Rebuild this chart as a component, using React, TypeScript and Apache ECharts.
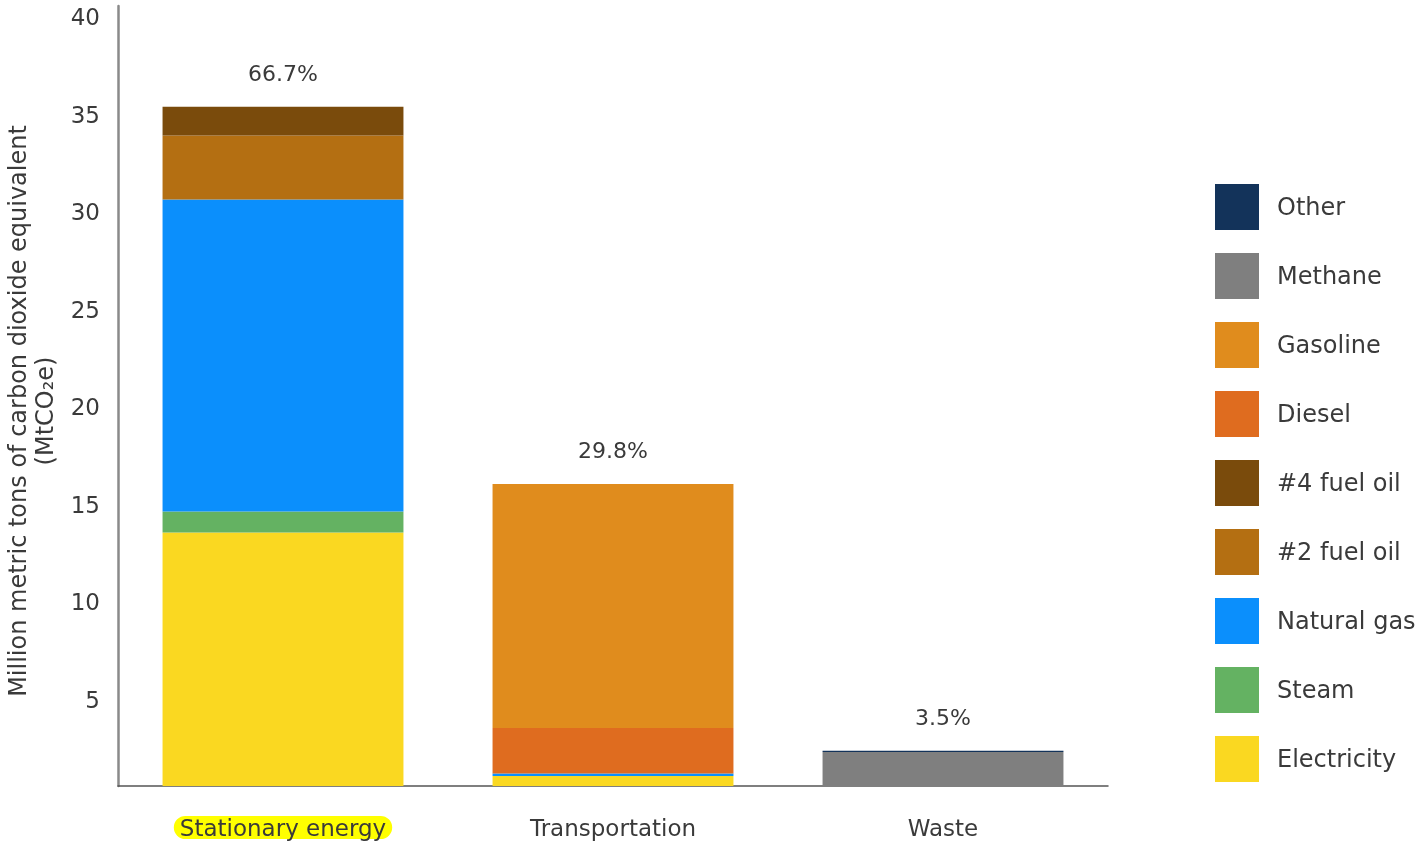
import React, { useEffect, useRef } from "react";
import * as echarts from "echarts";

const categories = ["Stationary energy", "Transportation", "Waste"];
const percentLabels = ["66.7%", "29.8%", "3.5%"];

// stacking order bottom -> top
const seriesNames = [
  "Electricity",
  "Steam",
  "Natural gas",
  "#2 fuel oil",
  "#4 fuel oil",
  "Diesel",
  "Gasoline",
  "Methane",
  "Other",
];
const electricity = [13.0, 0.51, 0];
const steam = [1.08, 0, 0];
const naturalGas = [16.0, 0.13, 0];
const fuelOil2 = [3.28, 0, 0];
const fuelOil4 = [1.47, 0, 0];
const diesel = [0, 2.34, 0];
const gasoline = [0, 12.51, 0];
const methane = [0, 0, 1.75];
const other = [0, 0, 0.06];

const seriesValues = [
  electricity,
  steam,
  naturalGas,
  fuelOil2,
  fuelOil4,
  diesel,
  gasoline,
  methane,
  other,
];
const seriesColors = [
  "#fad821",
  "#64b262",
  "#0b8ffc",
  "#b46f12",
  "#7a4b0c",
  "#df6c1f",
  "#e08c1d",
  "#7f7f7f",
  "#13335a",
];
const legendOrder = [
  "Other",
  "Methane",
  "Gasoline",
  "Diesel",
  "#4 fuel oil",
  "#2 fuel oil",
  "Natural gas",
  "Steam",
  "Electricity",
];
const yTicks = { min: 0, max: 40, interval: 5 };

const FONT = "'DejaVu Sans', sans-serif";
const TXT = "#3a3a3a";

export default function App() {
  const ref = useRef<HTMLDivElement>(null);
  useEffect(() => {
    if (!ref.current) return;
    const chart = echarts.init(ref.current, null, { renderer: "svg" });
    const totals = categories.map((_, i) =>
      seriesValues.reduce((s, arr) => s + arr[i], 0)
    );
    const bars = seriesNames.map((name, k) => ({
      name,
      type: "bar",
      stack: "total",
      barWidth: "73%",
      itemStyle: { color: seriesColors[k] },
      data: seriesValues[k],
    }));
    chart.setOption({
      animation: false,
      textStyle: { fontFamily: FONT },
      grid: { left: 118, right: 310, top: 6, bottom: 56, containLabel: false },
      legend: {
        data: legendOrder,
        orient: "vertical",
        left: 1215,
        top: 184,
        padding: 0,
        icon: "rect",
        itemWidth: 44,
        itemHeight: 46,
        itemGap: 23,
        selectedMode: false,
        textStyle: {
          fontFamily: FONT,
          fontSize: 24,
          color: TXT,
          padding: [0, 0, 0, 13],
        },
      },
      xAxis: {
        type: "category",
        data: categories,
        axisTick: { show: false },
        axisLine: { lineStyle: { color: "#555", width: 1.5 } },
        axisLabel: {
          interval: 0,
          margin: 26,
          fontSize: 23,
          lineHeight: 31,
          color: TXT,
          fontFamily: FONT,
          formatter: (v: string, i: number) => (i === 0 ? `{hl|${v}}` : v),
          rich: {
            hl: {
              backgroundColor: "#ffff00",
              borderRadius: 15,
              padding: [0, 6, 0, 6],
              lineHeight: 31,
              fontSize: 23,
              color: TXT,
              fontFamily: FONT,
            },
          },
        },
      },
      yAxis: {
        type: "value",
        min: yTicks.min,
        max: yTicks.max,
        interval: yTicks.interval,
        splitLine: { show: false },
        axisTick: { show: false },
        axisLine: { show: true, lineStyle: { color: "#8a8a8a", width: 2.5 } },
        axisLabel: {
          fontSize: 23,
          color: TXT,
          fontFamily: FONT,
          margin: 18,
          verticalAlign: "top",
          lineHeight: 22,
          formatter: (v: number) => (v === 0 ? "" : String(v)),
        },
      },
      graphic: [
        {
          type: "text",
          x: 31,
          y: 411,
          rotation: Math.PI / 2,
          style: {
            text: "Million metric tons of carbon dioxide equivalent\n(MtCO₂e)",
            fontSize: 24,
            fontFamily: FONT,
            fill: TXT,
            align: "center",
            verticalAlign: "middle",
            lineHeight: 27,
          },
        },
      ],
      series: [
        ...bars,
        {
          name: "pct",
          type: "scatter",
          symbolSize: 0,
          data: totals,
          silent: true,
          itemStyle: { opacity: 1 },
          label: {
            show: true,
            position: "top",
            distance: 22,
            fontSize: 22,
            color: TXT,
            opacity: 1,
            fontFamily: FONT,
            formatter: (p: any) => percentLabels[p.dataIndex],
          },
        },
      ],
    });
    return () => chart.dispose();
  }, []);
  return (
    <div
      ref={ref}
      style={{ position: "fixed", left: 0, top: 0, width: 1418, height: 843 }}
    />
  );
}
